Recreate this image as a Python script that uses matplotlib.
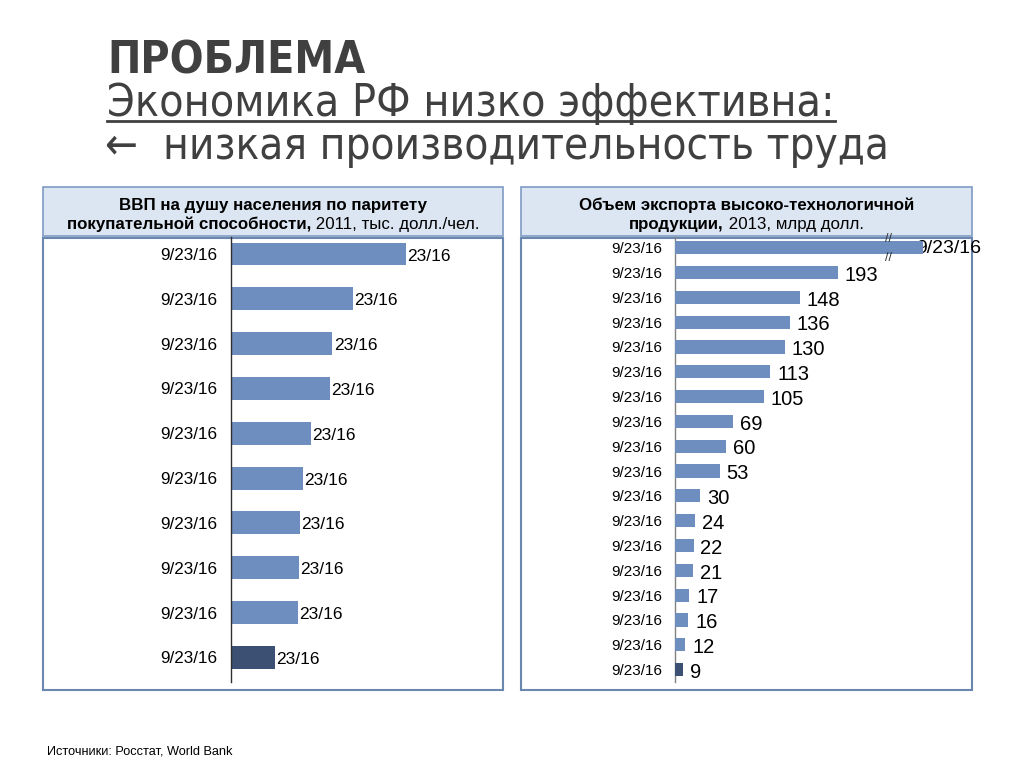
import matplotlib
matplotlib.use("Agg")
import matplotlib.pyplot as plt
from matplotlib.patches import Rectangle
from matplotlib.lines import Line2D

# ---------------- data ----------------
gdp_categories = ["9/23/16"] * 10
gdp_values = [92.0, 64.0, 53.4, 52.0, 42.1, 37.9, 36.2, 35.6, 35.0, 23.0]
gdp_value_labels = ["23/16"] * 10

exp_categories = ["9/23/16"] * 18
exp_values = [294, 193, 148, 136, 130, 113, 105, 69, 60, 53, 30, 24, 22, 21, 17, 16, 12, 9]
exp_value_labels = ["9/23/16", "193", "148", "136", "130", "113", "105", "69", "60",
                    "53", "30", "24", "22", "21", "17", "16", "12", "9"]

title1 = "ПРОБЛЕМА"
title2 = "Экономика РФ низко эффективна:"
title3 = "←  низкая производительность труда"
left_head = [("ВВП на душу населения по паритету", ""),
             ("покупательной способности,", " 2011, тыс. долл./чел.")]
right_head = [("Объем экспорта высоко-технологичной", ""),
              ("продукции,", " 2013, млрд долл.")]
source = "Источники: Росстат, World Bank"

# ---------------- style ----------------
W, H = 1024, 768
LIGHT = "#6d8ebf"
DARK = "#3b5073"
TITLE_C = "#404040"
HEAD_FILL = "#dce6f2"
HEAD_EDGE = "#7f9bc3"
PANEL_EDGE = "#6a87b0"
NARROW = ["DejaVu Sans"]
SANS = ["Liberation Sans", "DejaVu Sans"]

fig = plt.figure(figsize=(W / 100, H / 100), dpi=100)
fig.patch.set_facecolor("white")


def fx(x):
    return x / W


def fy(y):
    return 1 - y / H


def ax_rect(x0, y0, x1, y1):
    return [fx(x0), fy(y1), (x1 - x0) / W, (y1 - y0) / H]


# ---------------- titles ----------------
fig.text(fx(107), fy(73), title1, fontsize=32, fontweight="bold", family=NARROW,
         stretch="condensed", color=TITLE_C, va="baseline", ha="left")
t2 = fig.text(fx(107), fy(116), title2, fontsize=32, family=NARROW,
              stretch="condensed", color=TITLE_C, va="baseline", ha="left")
fig.text(fx(105), fy(159), title3, fontsize=31.5, family=NARROW,
         stretch="condensed", color=TITLE_C, va="baseline", ha="left")

fig.canvas.draw()
renderer = fig.canvas.get_renderer()
bb = t2.get_window_extent(renderer)
fig.add_artist(Line2D([bb.x0 / W, bb.x1 / W], [fy(121), fy(121)],
                      transform=fig.transFigure, color=TITLE_C, lw=2))

# ---------------- panel frames & headers ----------------
def panel(x0, x1, head_lines):
    fig.add_artist(Rectangle((fx(x0), fy(236)), (x1 - x0) / W, 49 / H,
                             transform=fig.transFigure, facecolor=HEAD_FILL,
                             edgecolor=HEAD_EDGE, lw=1.2, zorder=0))
    fig.add_artist(Rectangle((fx(x0), fy(690)), (x1 - x0) / W, 452 / H,
                             transform=fig.transFigure, facecolor="white",
                             edgecolor=PANEL_EDGE, lw=1.5, zorder=0))
    cx = (x0 + x1) / 2
    for k, (bold, normal) in enumerate(head_lines):
        ybase = 210 + 19 * k
        tb = fig.text(0, 0, bold, fontsize=12.2, fontweight="bold", family=SANS)
        tn = fig.text(0, 0, normal, fontsize=12.2, family=SANS)
        wb = tb.get_window_extent(renderer).width
        wn = tn.get_window_extent(renderer).width if normal else 0
        start = cx - (wb + wn) / 2
        tb.set_position((fx(start), fy(ybase)))
        tb.set_va("baseline")
        tn.set_position((fx(start + wb), fy(ybase)))
        tn.set_va("baseline")


panel(43, 503, left_head)
panel(521, 972, right_head)

# ---------------- left chart ----------------
axL = fig.add_axes(ax_rect(231, 237, 503, 682))
axL.set_facecolor("none")
nL = len(gdp_values)
posL = list(range(nL))
colL = [LIGHT] * (nL - 1) + [DARK]
axL.barh(posL, gdp_values, height=0.51, color=colL, zorder=2)
axL.set_xlim(0, 272 / 1.9)
axL.set_ylim(9.55, -0.38)
axL.set_yticks(posL)
axL.set_yticklabels(gdp_categories, fontsize=12.3, family=SANS)
axL.tick_params(axis="y", length=0, pad=10)
axL.set_xticks([])
for s in ["top", "right", "bottom"]:
    axL.spines[s].set_visible(False)
axL.spines["left"].set_color("#303030")
axL.spines["left"].set_linewidth(1.0)
for i, (v, lab) in enumerate(zip(gdp_values, gdp_value_labels)):
    axL.annotate(lab, (v, i), xytext=(1, -1.5), textcoords="offset points",
                 va="center", ha="left", fontsize=12.5, family=SANS, color="black")

# ---------------- right chart ----------------
axR = fig.add_axes(ax_rect(675, 237, 972, 682))
axR.set_facecolor("none")
nR = len(exp_values)
posR = list(range(nR))
colR = [LIGHT] * (nR - 1) + [DARK]
axR.barh(posR, exp_values, height=0.53, color=colR, zorder=3)
axR.set_xlim(0, 297 / 0.843)
axR.set_ylim(17.5, -0.43)
axR.set_yticks(posR)
axR.set_yticklabels(exp_categories, fontsize=11, family=SANS)
axR.tick_params(axis="y", length=0, pad=9.5)
axR.set_xticks([])
for s in ["top", "right", "bottom"]:
    axR.spines[s].set_visible(False)
axR.spines["left"].set_color("#808080")
axR.spines["left"].set_linewidth(1.0)
for i, (v, lab) in enumerate(zip(exp_values, exp_value_labels)):
    if i == 0:
        axR.annotate(lab, (v, i), xytext=(-5, -0.5), textcoords="offset points",
                     va="center", ha="left", fontsize=14, family=SANS,
                     color="black", zorder=1, annotation_clip=False)
    else:
        axR.annotate(lab, (v, i), xytext=(5, -2), textcoords="offset points",
                     va="center", ha="left", fontsize=14.5, family=SANS,
                     color="black", zorder=4)
# break marks on the top bar
for dy in (-0.33, 0.42):
    axR.annotate("//", (253, dy), va="center", ha="center",
                 fontsize=9, family=SANS, color="#303030", annotation_clip=False,
                 zorder=5)

# ---------------- source ----------------
fig.text(fx(47), fy(755), source, fontsize=9.2, family=SANS, color="black",
         va="baseline", ha="left")

fig.savefig("out.png", dpi=100, facecolor="white")
